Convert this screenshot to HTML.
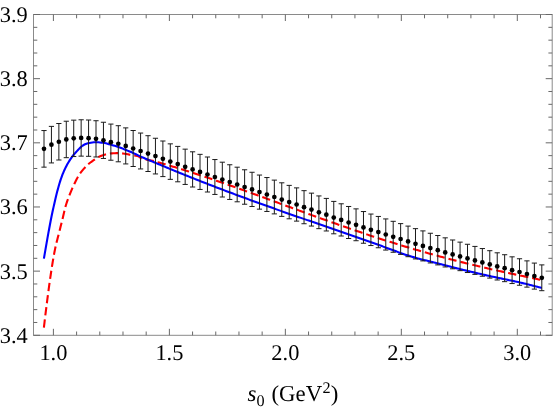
<!DOCTYPE html>
<html><head><meta charset="utf-8"><title>plot</title>
<style>html,body{margin:0;padding:0;background:#fff;}body{width:554px;height:407px;overflow:hidden;font-family:"Liberation Serif",serif;}svg{display:block}</style>
</head><body>
<div id="plot" style="will-change:transform;width:554px;height:407px;background:#fff">
<svg width="554" height="407" viewBox="0 0 554 407">
<rect width="554" height="407" fill="#fff"/>
<path d="M43.90,327.60 L44.08,325.99 L44.27,324.37 L44.45,322.76 L44.64,321.15 L44.83,319.54 L45.02,317.93 L45.21,316.32 L45.41,314.71 L45.61,313.10 L45.82,311.48 L46.02,309.87 L46.22,308.26 L46.42,306.65 L46.63,305.04 L46.83,303.43 L47.04,301.82 L47.24,300.21 L47.45,298.60 L47.66,296.99 L47.87,295.38 L48.08,293.77 L48.29,292.16 L48.51,290.55 L48.72,288.94 L48.94,287.34 L49.16,285.73 L49.38,284.12 L49.61,282.51 L49.83,280.90 L50.06,279.30 L50.29,277.69 L50.53,276.08 L50.76,274.48 L51.00,272.87 L51.24,271.27 L51.49,269.67 L51.73,268.06 L51.98,266.46 L52.24,264.86 L52.50,263.26 L52.76,261.66 L53.02,260.06 L53.30,258.46 L53.58,256.86 L53.87,255.26 L54.16,253.66 L54.47,252.07 L54.78,250.47 L55.10,248.88 L55.44,247.30 L55.78,245.71 L56.15,244.14 L56.54,242.56 L56.93,240.99 L57.34,239.41 L57.75,237.84 L58.16,236.27 L58.57,234.70 L58.97,233.13 L59.36,231.55 L59.76,229.98 L60.15,228.40 L60.55,226.83 L60.94,225.25 L61.33,223.68 L61.73,222.11 L62.12,220.53 L62.51,218.96 L62.89,217.38 L63.27,215.80 L63.63,214.21 L64.00,212.63 L64.37,211.05 L64.76,209.47 L65.16,207.90 L65.59,206.34 L66.04,204.79 L66.53,203.24 L67.05,201.70 L67.59,200.17 L68.15,198.64 L68.72,197.12 L69.31,195.61 L69.90,194.10 L70.50,192.59 L71.12,191.09 L71.76,189.60 L72.41,188.11 L73.07,186.63 L73.76,185.15 L74.45,183.69 L75.16,182.23 L75.88,180.76 L76.62,179.31 L77.38,177.87 L78.17,176.45 L79.01,175.07 L79.89,173.73 L80.83,172.42 L81.84,171.13 L82.88,169.88 L83.95,168.65 L85.04,167.45 L86.15,166.26 L87.31,165.12 L88.51,164.04 L89.77,163.02 L91.06,162.03 L92.37,161.07 L93.70,160.13 L95.03,159.19 L96.36,158.24 L97.73,157.39 L99.17,156.69 L100.67,156.05 L102.20,155.47 L103.75,154.95 L105.31,154.49 L106.87,154.07 L108.46,153.69 L110.06,153.48 L111.68,153.36 L113.30,153.26 L114.92,153.18 L116.55,153.12 L118.17,153.10 L119.79,153.15 L121.41,153.30 L123.02,153.48 L124.63,153.72 L126.23,154.00 L127.82,154.31 L129.42,154.63 L131.03,154.91 L132.70,155.16 L134.37,155.41 L136.00,155.70 L137.54,156.08 L138.96,156.58 L140.20,157.59 L141.58,158.20 L143.05,158.72 L144.59,159.16 L146.18,159.54 L147.81,159.89 L149.46,160.22 L151.11,160.54 L152.75,160.89 L154.35,161.27 L155.92,161.69 L157.48,162.13 L159.05,162.56 L160.61,163.00 L162.17,163.45 L163.73,163.90 L165.29,164.35 L166.85,164.80 L168.41,165.26 L169.96,165.72 L171.52,166.18 L173.07,166.64 L174.63,167.11 L176.18,167.58 L177.73,168.06 L179.28,168.53 L180.83,169.01 L182.38,169.49 L183.93,169.98 L185.48,170.46 L187.03,170.95 L188.58,171.44 L190.12,171.93 L191.67,172.43 L193.21,172.93 L194.76,173.43 L196.30,173.93 L197.84,174.44 L199.38,174.94 L200.92,175.45 L202.46,175.96 L204.00,176.47 L205.54,176.99 L207.08,177.51 L208.62,178.02 L210.16,178.54 L211.69,179.07 L213.23,179.59 L214.77,180.11 L216.30,180.64 L217.84,181.17 L219.37,181.70 L220.90,182.23 L222.44,182.76 L223.97,183.30 L225.50,183.83 L227.03,184.37 L228.56,184.91 L230.09,185.44 L231.62,185.98 L233.15,186.53 L234.68,187.07 L236.21,187.61 L237.74,188.16 L239.27,188.70 L240.80,189.25 L242.33,189.80 L243.85,190.35 L245.38,190.90 L246.91,191.45 L248.43,192.00 L249.96,192.55 L251.49,193.10 L253.01,193.65 L254.54,194.21 L256.06,194.76 L257.59,195.32 L259.11,195.87 L260.64,196.43 L262.16,196.98 L263.69,197.54 L265.21,198.10 L266.73,198.66 L268.26,199.21 L269.78,199.77 L271.31,200.33 L272.83,200.89 L274.35,201.45 L275.88,202.01 L277.40,202.56 L278.92,203.12 L280.45,203.68 L281.97,204.24 L283.49,204.80 L285.02,205.36 L286.54,205.92 L288.07,206.48 L289.59,207.04 L291.11,207.59 L292.64,208.15 L294.16,208.71 L295.69,209.27 L297.21,209.82 L298.73,210.38 L300.26,210.94 L301.78,211.49 L303.31,212.05 L304.83,212.60 L306.36,213.16 L307.88,213.71 L309.41,214.27 L310.93,214.82 L312.46,215.37 L313.99,215.92 L315.51,216.48 L317.04,217.03 L318.57,217.58 L320.09,218.12 L321.62,218.67 L323.15,219.22 L324.68,219.77 L326.21,220.31 L327.73,220.86 L329.26,221.40 L330.79,221.94 L332.32,222.48 L333.85,223.03 L335.38,223.56 L336.91,224.10 L338.45,224.64 L339.98,225.18 L341.51,225.71 L343.04,226.25 L344.57,226.78 L346.11,227.31 L347.64,227.84 L349.18,228.37 L350.71,228.90 L352.25,229.43 L353.78,229.95 L355.32,230.48 L356.85,231.00 L358.39,231.52 L359.93,232.04 L361.47,232.56 L363.00,233.08 L364.54,233.59 L366.08,234.10 L367.62,234.62 L369.16,235.13 L370.70,235.64 L372.24,236.14 L373.79,236.65 L375.33,237.15 L376.87,237.66 L378.42,238.16 L379.96,238.66 L381.50,239.16 L383.05,239.65 L384.60,240.15 L386.14,240.64 L387.69,241.13 L389.24,241.62 L390.78,242.11 L392.33,242.59 L393.88,243.07 L395.43,243.55 L396.98,244.03 L398.53,244.51 L400.09,244.99 L401.64,245.46 L403.19,245.93 L404.74,246.41 L406.30,246.87 L407.85,247.34 L409.41,247.80 L410.96,248.27 L412.52,248.73 L414.08,249.18 L415.63,249.64 L417.19,250.10 L418.75,250.55 L420.31,251.00 L421.87,251.45 L423.43,251.89 L424.99,252.34 L426.55,252.78 L428.11,253.22 L429.68,253.66 L431.24,254.09 L432.80,254.53 L434.37,254.96 L435.93,255.39 L437.50,255.82 L439.06,256.24 L440.63,256.67 L442.20,257.09 L443.77,257.51 L445.33,257.92 L446.90,258.34 L448.47,258.75 L450.04,259.16 L451.61,259.57 L453.18,259.98 L454.76,260.38 L456.33,260.79 L457.90,261.19 L459.47,261.59 L461.05,261.98 L462.62,262.38 L464.20,262.77 L465.77,263.16 L467.35,263.55 L468.92,263.94 L470.50,264.32 L472.08,264.71 L473.65,265.09 L475.23,265.47 L476.81,265.84 L478.39,266.22 L479.97,266.59 L481.55,266.96 L483.13,267.33 L484.71,267.70 L486.29,268.07 L487.87,268.43 L489.45,268.80 L491.03,269.16 L492.62,269.52 L494.20,269.87 L495.78,270.23 L497.37,270.59 L498.95,270.94 L500.54,271.29 L502.12,271.64 L503.71,271.99 L505.29,272.34 L506.88,272.68 L508.46,273.02 L510.05,273.37 L511.64,273.71 L513.22,274.05 L514.81,274.39 L516.40,274.73 L517.98,275.06 L519.57,275.39 L521.16,275.72 L522.75,276.06 L524.34,276.39 L525.93,276.72 L527.52,277.05 L529.10,277.38 L530.69,277.72 L532.28,278.06 L533.87,278.40 L535.45,278.73 L537.04,279.08 L538.63,279.42 L540.21,279.76 L541.80,280.10" fill="none" stroke="#ff0000" stroke-width="2.1" stroke-dasharray="8.3 3.965"/>
<path d="M43.90,258.60 L44.16,257.10 L44.41,255.61 L44.67,254.11 L44.93,252.61 L45.19,251.12 L45.45,249.62 L45.71,248.13 L45.97,246.63 L46.24,245.14 L46.50,243.64 L46.76,242.15 L47.03,240.65 L47.29,239.15 L47.55,237.66 L47.82,236.16 L48.09,234.67 L48.36,233.18 L48.63,231.68 L48.90,230.19 L49.18,228.70 L49.45,227.20 L49.73,225.71 L50.01,224.22 L50.30,222.73 L50.58,221.23 L50.87,219.74 L51.17,218.26 L51.47,216.77 L51.77,215.28 L52.09,213.79 L52.40,212.31 L52.72,210.82 L53.05,209.34 L53.37,207.86 L53.71,206.38 L54.04,204.90 L54.37,203.41 L54.71,201.93 L55.05,200.45 L55.39,198.97 L55.74,197.49 L56.10,196.02 L56.46,194.54 L56.83,193.07 L57.21,191.60 L57.60,190.14 L58.00,188.67 L58.40,187.21 L58.81,185.74 L59.24,184.28 L59.68,182.82 L60.13,181.37 L60.59,179.93 L61.08,178.49 L61.58,177.06 L62.10,175.64 L62.65,174.23 L63.23,172.82 L63.83,171.41 L64.45,170.02 L65.09,168.64 L65.75,167.28 L66.44,165.93 L67.15,164.60 L67.90,163.27 L68.68,161.96 L69.49,160.67 L70.32,159.39 L71.17,158.14 L72.05,156.91 L72.97,155.71 L73.92,154.52 L74.91,153.36 L75.92,152.22 L76.95,151.10 L77.99,150.00 L79.04,148.88 L80.12,147.75 L81.23,146.69 L82.40,145.75 L83.65,144.99 L85.01,144.30 L86.44,143.69 L87.90,143.23 L89.36,142.94 L90.85,142.68 L92.37,142.46 L93.89,142.30 L95.42,142.21 L96.93,142.21 L98.44,142.29 L99.96,142.43 L101.48,142.61 L102.99,142.82 L104.48,143.05 L105.96,143.33 L107.43,143.73 L108.89,144.18 L110.35,144.60 L111.82,145.00 L113.28,145.41 L114.74,145.83 L116.19,146.26 L117.65,146.71 L119.09,147.18 L120.52,147.69 L121.92,148.26 L123.32,148.86 L124.71,149.47 L126.11,150.05 L127.52,150.62 L128.93,151.19 L130.34,151.76 L131.74,152.34 L133.13,152.95 L134.51,153.59 L135.87,154.25 L137.23,154.93 L138.60,155.59 L139.97,156.24 L141.36,156.86 L142.74,157.48 L144.14,158.08 L145.53,158.68 L146.93,159.27 L148.33,159.86 L149.73,160.45 L151.13,161.03 L152.54,161.61 L153.94,162.20 L155.34,162.79 L156.74,163.38 L158.14,163.97 L159.54,164.55 L160.94,165.14 L162.34,165.72 L163.74,166.31 L165.14,166.89 L166.54,167.47 L167.95,168.05 L169.35,168.63 L170.75,169.21 L172.16,169.79 L173.56,170.37 L174.97,170.94 L176.37,171.52 L177.78,172.09 L179.19,172.66 L180.59,173.23 L182.00,173.80 L183.41,174.37 L184.82,174.94 L186.22,175.50 L187.63,176.07 L189.04,176.63 L190.45,177.20 L191.86,177.76 L193.27,178.32 L194.69,178.88 L196.10,179.44 L197.51,180.00 L198.92,180.55 L200.34,181.11 L201.75,181.66 L203.16,182.22 L204.58,182.77 L205.99,183.32 L207.41,183.87 L208.82,184.42 L210.24,184.97 L211.65,185.51 L213.07,186.06 L214.49,186.60 L215.91,187.15 L217.32,187.69 L218.74,188.23 L220.16,188.77 L221.58,189.31 L223.00,189.85 L224.42,190.39 L225.84,190.92 L227.26,191.46 L228.68,191.99 L230.10,192.53 L231.53,193.06 L232.95,193.59 L234.37,194.12 L235.79,194.65 L237.22,195.18 L238.64,195.71 L240.07,196.23 L241.49,196.76 L242.92,197.28 L244.34,197.81 L245.77,198.33 L247.19,198.85 L248.62,199.37 L250.04,199.89 L251.47,200.41 L252.90,200.93 L254.33,201.45 L255.75,201.96 L257.18,202.48 L258.61,203.00 L260.04,203.51 L261.47,204.02 L262.90,204.54 L264.33,205.05 L265.76,205.56 L267.19,206.07 L268.62,206.58 L270.05,207.09 L271.48,207.60 L272.91,208.10 L274.34,208.61 L275.77,209.12 L277.20,209.62 L278.63,210.13 L280.07,210.63 L281.50,211.13 L282.93,211.64 L284.36,212.14 L285.80,212.64 L287.23,213.14 L288.66,213.64 L290.10,214.14 L291.53,214.64 L292.96,215.14 L294.40,215.64 L295.83,216.14 L297.27,216.64 L298.70,217.14 L300.14,217.63 L301.57,218.13 L303.01,218.63 L304.44,219.12 L305.88,219.62 L307.31,220.12 L308.75,220.61 L310.18,221.11 L311.62,221.60 L313.05,222.10 L314.49,222.59 L315.92,223.08 L317.36,223.58 L318.79,224.07 L320.23,224.57 L321.67,225.06 L323.10,225.56 L324.54,226.05 L325.97,226.55 L327.41,227.04 L328.84,227.53 L330.28,228.03 L331.71,228.52 L333.15,229.02 L334.59,229.51 L336.02,230.01 L337.46,230.50 L338.89,231.00 L340.33,231.49 L341.76,231.99 L343.20,232.49 L344.63,232.98 L346.07,233.48 L347.50,233.98 L348.94,234.47 L350.37,234.97 L351.80,235.47 L353.24,235.97 L354.67,236.47 L356.10,236.97 L357.54,237.47 L358.97,237.97 L360.40,238.47 L361.84,238.98 L363.27,239.48 L364.70,239.99 L366.13,240.49 L367.56,241.00 L369.00,241.50 L370.43,242.01 L371.86,242.52 L373.29,243.03 L374.72,243.54 L376.15,244.05 L377.58,244.56 L379.01,245.08 L380.43,245.59 L381.86,246.11 L383.29,246.62 L384.72,247.14 L386.15,247.66 L387.57,248.18 L389.00,248.70 L390.42,249.22 L391.85,249.74 L393.27,250.27 L394.70,250.80 L396.12,251.33 L397.53,251.88 L398.95,252.42 L400.38,252.93 L401.81,253.43 L403.25,253.93 L404.69,254.41 L406.14,254.88 L407.58,255.34 L409.03,255.80 L410.48,256.25 L411.93,256.69 L413.39,257.13 L414.84,257.56 L416.30,257.98 L417.76,258.40 L419.23,258.79 L420.69,259.18 L422.17,259.55 L423.64,259.90 L425.12,260.25 L426.60,260.59 L428.08,260.94 L429.56,261.29 L431.03,261.66 L432.50,262.02 L433.98,262.40 L435.45,262.77 L436.92,263.15 L438.39,263.53 L439.86,263.91 L441.33,264.30 L442.80,264.68 L444.26,265.07 L445.73,265.45 L447.20,265.84 L448.67,266.22 L450.14,266.60 L451.61,266.98 L453.08,267.36 L454.55,267.74 L456.02,268.11 L457.50,268.48 L458.97,268.85 L460.44,269.21 L461.92,269.57 L463.39,269.93 L464.87,270.28 L466.35,270.64 L467.82,270.99 L469.30,271.34 L470.78,271.69 L472.26,272.04 L473.73,272.39 L475.21,272.73 L476.69,273.07 L478.17,273.42 L479.65,273.76 L481.13,274.10 L482.61,274.43 L484.09,274.77 L485.57,275.11 L487.05,275.44 L488.53,275.77 L490.02,276.10 L491.50,276.43 L492.98,276.75 L494.47,277.07 L495.95,277.39 L497.44,277.70 L498.93,278.01 L500.41,278.32 L501.90,278.63 L503.39,278.93 L504.87,279.24 L506.36,279.55 L507.85,279.85 L509.34,280.16 L510.82,280.48 L512.31,280.79 L513.79,281.11 L515.27,281.43 L516.76,281.76 L518.24,282.10 L519.72,282.43 L521.19,282.78 L522.67,283.13 L524.15,283.48 L525.62,283.84 L527.10,284.20 L528.57,284.56 L530.04,284.93 L531.52,285.31 L532.99,285.68 L534.46,286.06 L535.93,286.44 L537.40,286.83 L538.87,287.22 L540.33,287.61 L541.80,288.00" fill="none" stroke="#0000ff" stroke-width="2.1"/>
<path d="M44.00,130.55V167.15M41.40,130.55H46.60M41.40,167.15H46.60M51.43,126.38V162.93M48.83,126.38H54.03M48.83,162.93H54.03M58.86,123.50V160.00M56.26,123.50H61.46M56.26,160.00H61.46M66.29,121.23V157.68M63.69,121.23H68.89M63.69,157.68H68.89M73.72,120.15V156.55M71.12,120.15H76.32M71.12,156.55H76.32M81.15,119.78V156.13M78.55,119.78H83.75M78.55,156.13H83.75M88.58,120.00V156.30M85.98,120.00H91.18M85.98,156.30H91.18M96.01,120.72V156.97M93.41,120.72H98.61M93.41,156.97H98.61M103.44,122.25V158.45M100.84,122.25H106.04M100.84,158.45H106.04M110.87,124.08V160.22M108.27,124.08H113.47M108.27,160.22H113.47M118.30,125.70V161.80M115.70,125.70H120.90M115.70,161.80H120.90M125.73,127.88V163.93M123.13,127.88H128.33M123.13,163.93H128.33M133.16,130.50V166.50M130.56,130.50H135.76M130.56,166.50H135.76M140.59,133.05V168.95M137.99,133.05H143.19M137.99,168.95H143.19M148.02,135.70V171.50M145.42,135.70H150.62M145.42,171.50H150.62M155.45,138.25V173.95M152.85,138.25H158.05M152.85,173.95H158.05M162.88,141.00V176.60M160.28,141.00H165.48M160.28,176.60H165.48M170.31,143.85V179.35M167.71,143.85H172.91M167.71,179.35H172.91M177.74,146.40V181.80M175.14,146.40H180.34M175.14,181.80H180.34M185.17,149.15V184.45M182.57,149.15H187.77M182.57,184.45H187.77M192.60,151.80V187.00M190.00,151.80H195.20M190.00,187.00H195.20M200.03,154.35V189.45M197.43,154.35H202.63M197.43,189.45H202.63M207.46,157.00V192.00M204.86,157.00H210.06M204.86,192.00H210.06M214.89,159.55V194.45M212.29,159.55H217.49M212.29,194.45H217.49M222.32,162.20V197.00M219.72,162.20H224.92M219.72,197.00H224.92M229.75,164.75V199.45M227.15,164.75H232.35M227.15,199.45H232.35M237.18,167.20V201.80M234.58,167.20H239.78M234.58,201.80H239.78M244.61,169.78V204.22M242.01,169.78H247.21M242.01,204.22H247.21M252.04,172.27V206.53M249.44,172.27H254.64M249.44,206.53H254.64M259.47,175.05V209.15M256.87,175.05H262.07M256.87,209.15H262.07M266.90,177.54V211.46M264.30,177.54H269.50M264.30,211.46H269.50M274.33,180.12V213.88M271.73,180.12H276.93M271.73,213.88H276.93M281.76,182.81V216.39M279.16,182.81H284.36M279.16,216.39H284.36M289.19,185.39V218.81M286.59,185.39H291.79M286.59,218.81H291.79M296.61,187.88V221.12M294.01,187.88H299.21M294.01,221.12H299.21M304.04,190.66V223.74M301.44,190.66H306.64M301.44,223.74H306.64M311.47,193.15V226.05M308.87,193.15H314.07M308.87,226.05H314.07M318.90,195.93V228.67M316.30,195.93H321.50M316.30,228.67H321.50M326.33,198.42V230.98M323.73,198.42H328.93M323.73,230.98H328.93M333.76,201.40V233.80M331.16,201.40H336.36M331.16,233.80H336.36M341.19,203.79V236.01M338.59,203.79H343.79M338.59,236.01H343.79M348.62,206.48V238.52M346.02,206.48H351.22M346.02,238.52H351.22M356.05,208.87V240.73M353.45,208.87H358.65M353.45,240.73H358.65M363.48,211.56V243.24M360.88,211.56H366.08M360.88,243.24H366.08M370.91,214.05V245.55M368.31,214.05H373.51M368.31,245.55H373.51M378.34,216.44V247.76M375.74,216.44H380.94M375.74,247.76H380.94M385.77,218.93V250.07M383.17,218.93H388.37M383.17,250.07H388.37M393.20,221.32V252.28M390.60,221.32H395.80M390.60,252.28H395.80M400.63,223.61V254.39M398.03,223.61H403.23M398.03,254.39H403.23M408.06,226.10V256.70M405.46,226.10H410.66M405.46,256.70H410.66M415.49,228.65V258.95M412.89,228.65H418.09M412.89,258.95H418.09M422.92,230.90V260.90M420.32,230.90H425.52M420.32,260.90H425.52M430.35,233.25V262.95M427.75,233.25H432.95M427.75,262.95H432.95M437.78,235.50V264.90M435.18,235.50H440.38M435.18,264.90H440.38M445.21,237.84V266.96M442.61,237.84H447.81M442.61,266.96H447.81M452.64,239.99V268.81M450.04,239.99H455.24M450.04,268.81H455.24M460.07,242.13V270.67M457.47,242.13H462.67M457.47,270.67H462.67M467.50,244.27V272.53M464.90,244.27H470.10M464.90,272.53H470.10M474.93,246.41V274.39M472.33,246.41H477.53M472.33,274.39H477.53M482.36,248.56V276.24M479.76,248.56H484.96M479.76,276.24H484.96M489.79,250.70V278.10M487.19,250.70H492.39M487.19,278.10H492.39M497.22,252.81V279.99M494.62,252.81H499.82M494.62,279.99H499.82M504.65,254.73V281.67M502.05,254.73H507.25M502.05,281.67H507.25M512.08,256.84V283.56M509.48,256.84H514.68M509.48,283.56H514.68M519.51,258.76V285.24M516.91,258.76H522.11M516.91,285.24H522.11M526.94,260.87V287.13M524.34,260.87H529.54M524.34,287.13H529.54M534.37,263.09V289.11M531.77,263.09H536.97M531.77,289.11H536.97M541.80,264.90V290.70M539.20,264.90H544.40M539.20,290.70H544.40" fill="none" stroke="#1a1a1a" stroke-width="1"/>
<circle cx="44.00" cy="148.85" r="2.35" fill="#000"/>
<circle cx="51.43" cy="144.65" r="2.35" fill="#000"/>
<circle cx="58.86" cy="141.75" r="2.35" fill="#000"/>
<circle cx="66.29" cy="139.45" r="2.35" fill="#000"/>
<circle cx="73.72" cy="138.35" r="2.35" fill="#000"/>
<circle cx="81.15" cy="137.95" r="2.35" fill="#000"/>
<circle cx="88.58" cy="138.15" r="2.35" fill="#000"/>
<circle cx="96.01" cy="138.85" r="2.35" fill="#000"/>
<circle cx="103.44" cy="140.35" r="2.35" fill="#000"/>
<circle cx="110.87" cy="142.15" r="2.35" fill="#000"/>
<circle cx="118.30" cy="143.75" r="2.35" fill="#000"/>
<circle cx="125.73" cy="145.90" r="2.35" fill="#000"/>
<circle cx="133.16" cy="148.50" r="2.35" fill="#000"/>
<circle cx="140.59" cy="151.00" r="2.35" fill="#000"/>
<circle cx="148.02" cy="153.60" r="2.35" fill="#000"/>
<circle cx="155.45" cy="156.10" r="2.35" fill="#000"/>
<circle cx="162.88" cy="158.80" r="2.35" fill="#000"/>
<circle cx="170.31" cy="161.60" r="2.35" fill="#000"/>
<circle cx="177.74" cy="164.10" r="2.35" fill="#000"/>
<circle cx="185.17" cy="166.80" r="2.35" fill="#000"/>
<circle cx="192.60" cy="169.40" r="2.35" fill="#000"/>
<circle cx="200.03" cy="171.90" r="2.35" fill="#000"/>
<circle cx="207.46" cy="174.50" r="2.35" fill="#000"/>
<circle cx="214.89" cy="177.00" r="2.35" fill="#000"/>
<circle cx="222.32" cy="179.60" r="2.35" fill="#000"/>
<circle cx="229.75" cy="182.10" r="2.35" fill="#000"/>
<circle cx="237.18" cy="184.50" r="2.35" fill="#000"/>
<circle cx="244.61" cy="187.00" r="2.35" fill="#000"/>
<circle cx="252.04" cy="189.40" r="2.35" fill="#000"/>
<circle cx="259.47" cy="192.10" r="2.35" fill="#000"/>
<circle cx="266.90" cy="194.50" r="2.35" fill="#000"/>
<circle cx="274.33" cy="197.00" r="2.35" fill="#000"/>
<circle cx="281.76" cy="199.60" r="2.35" fill="#000"/>
<circle cx="289.19" cy="202.10" r="2.35" fill="#000"/>
<circle cx="296.61" cy="204.50" r="2.35" fill="#000"/>
<circle cx="304.04" cy="207.20" r="2.35" fill="#000"/>
<circle cx="311.47" cy="209.60" r="2.35" fill="#000"/>
<circle cx="318.90" cy="212.30" r="2.35" fill="#000"/>
<circle cx="326.33" cy="214.70" r="2.35" fill="#000"/>
<circle cx="333.76" cy="217.60" r="2.35" fill="#000"/>
<circle cx="341.19" cy="219.90" r="2.35" fill="#000"/>
<circle cx="348.62" cy="222.50" r="2.35" fill="#000"/>
<circle cx="356.05" cy="224.80" r="2.35" fill="#000"/>
<circle cx="363.48" cy="227.40" r="2.35" fill="#000"/>
<circle cx="370.91" cy="229.80" r="2.35" fill="#000"/>
<circle cx="378.34" cy="232.10" r="2.35" fill="#000"/>
<circle cx="385.77" cy="234.50" r="2.35" fill="#000"/>
<circle cx="393.20" cy="236.80" r="2.35" fill="#000"/>
<circle cx="400.63" cy="239.00" r="2.35" fill="#000"/>
<circle cx="408.06" cy="241.40" r="2.35" fill="#000"/>
<circle cx="415.49" cy="243.80" r="2.35" fill="#000"/>
<circle cx="422.92" cy="245.90" r="2.35" fill="#000"/>
<circle cx="430.35" cy="248.10" r="2.35" fill="#000"/>
<circle cx="437.78" cy="250.20" r="2.35" fill="#000"/>
<circle cx="445.21" cy="252.40" r="2.35" fill="#000"/>
<circle cx="452.64" cy="254.40" r="2.35" fill="#000"/>
<circle cx="460.07" cy="256.40" r="2.35" fill="#000"/>
<circle cx="467.50" cy="258.40" r="2.35" fill="#000"/>
<circle cx="474.93" cy="260.40" r="2.35" fill="#000"/>
<circle cx="482.36" cy="262.40" r="2.35" fill="#000"/>
<circle cx="489.79" cy="264.40" r="2.35" fill="#000"/>
<circle cx="497.22" cy="266.40" r="2.35" fill="#000"/>
<circle cx="504.65" cy="268.20" r="2.35" fill="#000"/>
<circle cx="512.08" cy="270.20" r="2.35" fill="#000"/>
<circle cx="519.51" cy="272.00" r="2.35" fill="#000"/>
<circle cx="526.94" cy="274.00" r="2.35" fill="#000"/>
<circle cx="534.37" cy="276.10" r="2.35" fill="#000"/>
<circle cx="541.80" cy="277.80" r="2.35" fill="#000"/>
<rect x="33.5" y="14.5" width="518.7" height="320.8" fill="none" stroke="#8a8a8a" stroke-width="1"/>
<path d="M53.40,335.3v-6.5M53.40,14.5v6.5M76.60,335.3v-3.8M76.60,14.5v3.8M99.79,335.3v-3.8M99.79,14.5v3.8M122.99,335.3v-3.8M122.99,14.5v3.8M146.18,335.3v-3.8M146.18,14.5v3.8M169.38,335.3v-6.5M169.38,14.5v6.5M192.57,335.3v-3.8M192.57,14.5v3.8M215.76,335.3v-3.8M215.76,14.5v3.8M238.96,335.3v-3.8M238.96,14.5v3.8M262.15,335.3v-3.8M262.15,14.5v3.8M285.35,335.3v-6.5M285.35,14.5v6.5M308.55,335.3v-3.8M308.55,14.5v3.8M331.74,335.3v-3.8M331.74,14.5v3.8M354.93,335.3v-3.8M354.93,14.5v3.8M378.13,335.3v-3.8M378.13,14.5v3.8M401.32,335.3v-6.5M401.32,14.5v6.5M424.52,335.3v-3.8M424.52,14.5v3.8M447.71,335.3v-3.8M447.71,14.5v3.8M470.91,335.3v-3.8M470.91,14.5v3.8M494.10,335.3v-3.8M494.10,14.5v3.8M517.30,335.3v-6.5M517.30,14.5v6.5M540.50,335.3v-3.8M540.50,14.5v3.8M33.5,335.30h6.5M552.2,335.30h-6.5M33.5,322.47h3.8M552.2,322.47h-3.8M33.5,309.64h3.8M552.2,309.64h-3.8M33.5,296.80h3.8M552.2,296.80h-3.8M33.5,283.97h3.8M552.2,283.97h-3.8M33.5,271.14h6.5M552.2,271.14h-6.5M33.5,258.31h3.8M552.2,258.31h-3.8M33.5,245.48h3.8M552.2,245.48h-3.8M33.5,232.64h3.8M552.2,232.64h-3.8M33.5,219.81h3.8M552.2,219.81h-3.8M33.5,206.98h6.5M552.2,206.98h-6.5M33.5,194.15h3.8M552.2,194.15h-3.8M33.5,181.32h3.8M552.2,181.32h-3.8M33.5,168.48h3.8M552.2,168.48h-3.8M33.5,155.65h3.8M552.2,155.65h-3.8M33.5,142.82h6.5M552.2,142.82h-6.5M33.5,129.99h3.8M552.2,129.99h-3.8M33.5,117.16h3.8M552.2,117.16h-3.8M33.5,104.32h3.8M552.2,104.32h-3.8M33.5,91.49h3.8M552.2,91.49h-3.8M33.5,78.66h6.5M552.2,78.66h-6.5M33.5,65.83h3.8M552.2,65.83h-3.8M33.5,53.00h3.8M552.2,53.00h-3.8M33.5,40.16h3.8M552.2,40.16h-3.8M33.5,27.33h3.8M552.2,27.33h-3.8M33.5,14.50h6.5M552.2,14.50h-6.5" fill="none" stroke="#686868" stroke-width="1"/>
<g font-family="Liberation Serif, serif" font-size="22.4" fill="#000" text-rendering="geometricPrecision">
<text x="27.7" y="342.70" text-anchor="end">3.4</text>
<text x="27.7" y="278.54" text-anchor="end">3.5</text>
<text x="27.7" y="214.38" text-anchor="end">3.6</text>
<text x="27.7" y="150.22" text-anchor="end">3.7</text>
<text x="27.7" y="86.06" text-anchor="end">3.8</text>
<text x="27.7" y="21.90" text-anchor="end">3.9</text>
<text x="53.40" y="360.1" text-anchor="middle">1.0</text>
<text x="169.38" y="360.1" text-anchor="middle">1.5</text>
<text x="285.35" y="360.1" text-anchor="middle">2.0</text>
<text x="401.32" y="360.1" text-anchor="middle">2.5</text>
<text x="517.30" y="360.1" text-anchor="middle">3.0</text>
<text x="247.5" y="401.2" font-size="22.8"><tspan font-style="italic">s</tspan><tspan font-size="16.19" dy="5">0</tspan><tspan dy="-5" dx="1.3"> (GeV</tspan><tspan font-size="16.19" dy="-8" dx="0.3">2</tspan><tspan dy="8" dx="0.3">)</tspan></text>
</g>
</svg>
</div>
</body></html>
